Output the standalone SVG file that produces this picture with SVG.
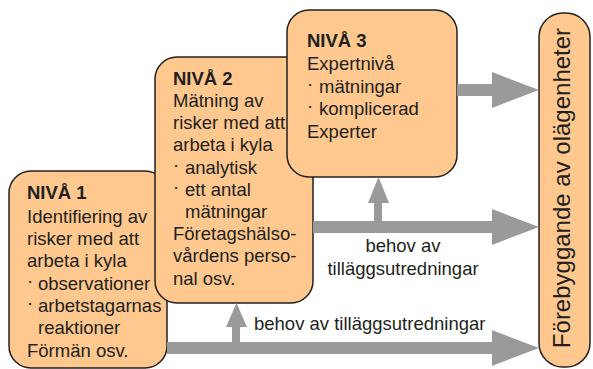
<svg xmlns="http://www.w3.org/2000/svg" width="593" height="369" viewBox="0 0 593 369">
<style>
.box{fill:#FEC88E;stroke:#231F20;stroke-width:1.5}
.t{font-family:"Liberation Sans",Arial,sans-serif;font-size:18.5px;fill:#231F20}
.b{font-weight:bold}
.arr{fill:#9A9A9A;stroke:none}
</style>
<rect width="593" height="369" fill="#FFFFFF"/>
<g id="niva1">
<rect class="box" x="9" y="171" width="158" height="197" rx="22"/>
<text class="t b" x="27" y="199">NIVÅ 1</text>
<text class="t" x="27" y="223">Identifiering av</text>
<text class="t" x="27" y="245">risker med att</text>
<text class="t" x="27" y="267">arbeta i kyla</text>
<text class="t" x="27" y="290"><tspan dy="-3">·</tspan><tspan x="38" dy="3">observationer</tspan></text>
<text class="t" x="27" y="312"><tspan dy="-3">·</tspan><tspan x="38" dy="3">arbetstagarnas</tspan></text>
<text class="t" x="38" y="334">reaktioner</text>
<text class="t" x="27" y="357">Förmän osv.</text>
</g>
<g id="niva2">
<rect class="box" x="155" y="57" width="158" height="246" rx="22"/>
<text class="t b" x="173" y="85">NIVÅ 2</text>
<text class="t" x="173" y="107">Mätning av</text>
<text class="t" x="173" y="129">risker med att</text>
<text class="t" x="173" y="151">arbeta i kyla</text>
<text class="t" x="173" y="174"><tspan dy="-3">·</tspan><tspan x="185" dy="3">analytisk</tspan></text>
<text class="t" x="173" y="196"><tspan dy="-3">·</tspan><tspan x="185" dy="3">ett antal</tspan></text>
<text class="t" x="185" y="218">mätningar</text>
<text class="t" x="173" y="240">Företagshälso-</text>
<text class="t" x="173" y="262">vårdens perso-</text>
<text class="t" x="173" y="285">nal osv.</text>
</g>
<g id="niva3">
<rect class="box" x="287" y="10" width="170" height="167" rx="22"/>
<text class="t b" x="307" y="47">NIVÅ 3</text>
<text class="t" x="307" y="70">Expertnivå</text>
<text class="t" x="307" y="93"><tspan dy="-3">·</tspan><tspan x="319" dy="3">mätningar</tspan></text>
<text class="t" x="307" y="115"><tspan dy="-3">·</tspan><tspan x="319" dy="3">komplicerad</tspan></text>
<text class="t" x="307" y="138">Experter</text>
</g>
<g id="forebyggande">
<rect class="box" x="539" y="13" width="51" height="354" rx="24"/>
<text class="t" transform="translate(570,188) rotate(-90)" text-anchor="middle" style="font-size:24px">Förebyggande av olägenheter</text>
</g>
<g id="connectors">
<polygon class="arr" points="457,84 492,84 492,72 539,90 492,108 492,96 457,96"/>
<polygon class="arr" points="313,221 492,221 492,209 539,227 492,245 492,233 313,233"/>
<polygon class="arr" points="167,342 492,342 492,330 539,348 492,366 492,354 167,354"/>
<polygon class="arr" points="374,221 374,203 368,203 378.5,177 389,203 382,203 382,221"/>
<polygon class="arr" points="232,342 232,327 226,327 236.5,303 247,327 240,327 240,342"/>
</g>
<g id="labels">
<text class="t" x="403" y="252" text-anchor="middle">behov av</text>
<text class="t" x="403" y="275" text-anchor="middle">tilläggsutredningar</text>
<text class="t" x="254" y="330">behov av tilläggsutredningar</text>
</g>
</svg>
